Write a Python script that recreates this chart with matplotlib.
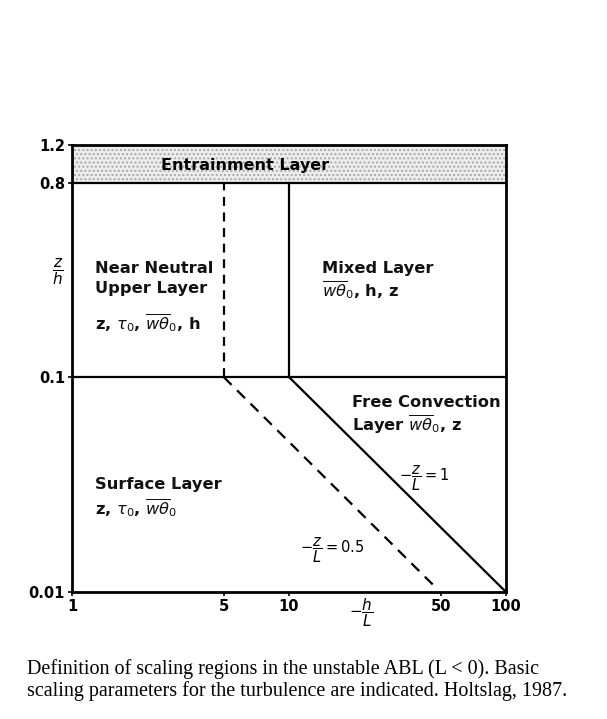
import matplotlib.pyplot as plt
from matplotlib.ticker import FixedLocator, FixedFormatter, NullLocator

# axis ticks
x_ticks = [1, 5, 10, 50, 100]
x_tick_labels = ["1", "5", "10", "50", "100"]
y_ticks = [0.01, 0.1, 0.8, 1.2]
y_tick_labels = ["0.01", "0.1", "0.8", "1.2"]

# region boundaries (-h/L, z/h)
x_min, x_max = 1, 100
y_min, y_max = 0.01, 1.2
near_neutral_x = 5        # dashed vertical
mixed_x = 10              # solid vertical
surface_top = 0.1
mixed_top = 0.8

# -z/L = 1 and -z/L = 0.5 lines
line1_x = [10, 100]
line1_y = [0.1, 0.01]
line05_x = [5, 47]
line05_y = [0.1, 0.0106]

caption_lines = [
    "Definition of scaling regions in the unstable ABL (L < 0). Basic",
    "scaling parameters for the turbulence are indicated. Holtslag, 1987.",
]

fig = plt.figure(figsize=(6.07, 7.19), dpi=100)
ax = fig.add_axes([0.1186, 0.1766, 0.715, 0.6217])
ax.set_xscale("log")
ax.set_yscale("log")
ax.set_xlim(x_min, x_max)
ax.set_ylim(y_min, y_max)

# entrainment layer band
ax.fill_between([x_min, x_max], mixed_top, y_max, facecolor="#ededed",
                edgecolor="#a8a8a8", hatch="....", linewidth=0, zorder=1)

lw = 1.6
ax.axhline(mixed_top, color="black", lw=lw, zorder=3)
ax.axhline(surface_top, color="black", lw=lw, zorder=3)
ax.plot([near_neutral_x, near_neutral_x], [surface_top, mixed_top],
        color="black", lw=lw, ls=(0, (4, 3)), zorder=3)
ax.plot([mixed_x, mixed_x], [surface_top, mixed_top], color="black", lw=lw, zorder=3)
ax.plot(line1_x, line1_y, color="black", lw=lw, zorder=3)
ax.plot(line05_x, line05_y, color="black", lw=lw, ls=(0, (5, 3.5)), zorder=3)

for s in ax.spines.values():
    s.set_linewidth(2.0)

ax.xaxis.set_major_locator(FixedLocator(x_ticks))
ax.xaxis.set_major_formatter(FixedFormatter(x_tick_labels))
ax.xaxis.set_minor_locator(NullLocator())
ax.yaxis.set_major_locator(FixedLocator(y_ticks))
ax.yaxis.set_major_formatter(FixedFormatter(y_tick_labels))
ax.yaxis.set_minor_locator(NullLocator())
ax.tick_params(length=3, width=1.2, labelsize=10.5, pad=2)
for lab in ax.get_xticklabels() + ax.get_yticklabels():
    lab.set_fontweight("semibold")

tkw = dict(fontsize=11.7, fontweight="semibold", color="#111111", zorder=4,
           va="center")
ax.text(0.399, 0.955, "Entrainment Layer", transform=ax.transAxes,
        ha="center", va="center", fontsize=11.5, fontweight="bold", zorder=4)
ax.text(1.28, 0.321, "Near Neutral", **tkw)
ax.text(1.28, 0.257, "Upper Layer", **tkw)
ax.text(1.28, 0.180, r"z, $\tau_0$, $\overline{w\theta}_0$, h", **tkw)
ax.text(14.2, 0.321, "Mixed Layer", **tkw)
ax.text(14.2, 0.254, r"$\overline{w\theta}_0$, h, z", **tkw)
ax.text(19.5, 0.0765, "Free Convection", **tkw)
ax.text(19.5, 0.0604, r"Layer $\overline{w\theta}_0$, z", **tkw)
ax.text(1.28, 0.0318, "Surface Layer", **tkw)
ax.text(1.28, 0.0246, r"z, $\tau_0$, $\overline{w\theta}_0$", **tkw)
ax.text(32, 0.034, r"$-\dfrac{z}{L} = 1$", va="center", fontsize=10.5)
ax.text(11.2, 0.0157, r"$-\dfrac{z}{L} = 0.5$", va="center", fontsize=10.5)

ax.set_xlabel(r"$-\dfrac{h}{L}$", fontsize=11, va="center")
ax.xaxis.set_label_coords(0.666, -0.047)
ax.set_ylabel(r"$\dfrac{z}{h}$", fontsize=11, rotation=0, va="center")
ax.yaxis.set_label_coords(-0.032, 0.716)

for i, line in enumerate(caption_lines):
    fig.text(0.044, 1 - (669 + 22 * i) / 719, line, family="Liberation Serif",
             fontsize=14.5, va="center")

fig.savefig("out.png", dpi=100)
